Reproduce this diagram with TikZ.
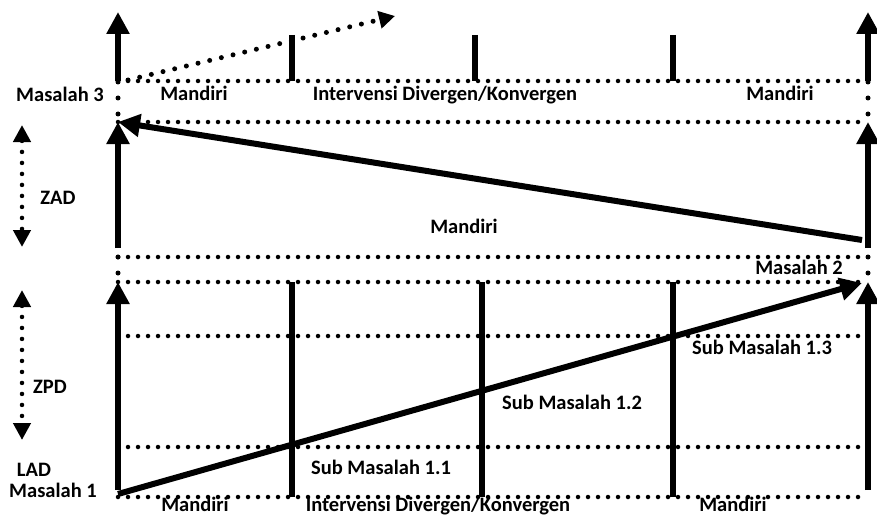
\documentclass[tikz,border=0pt]{standalone}
\usepackage{fontspec}
\setmainfont{Carlito}
\usetikzlibrary{arrows.meta,positioning,calc}

\begin{document}
\begin{tikzpicture}[
    x=1pt, y=-1pt,
    font=\fontsize{20.5}{24}\selectfont\bfseries,
    >={Triangle[length=22pt,width=22pt]},
    axisarrow/.style={line width=6pt, ->},
    bar/.style={line width=6pt},
    dotline/.style={line width=4.5pt, line cap=round, dash pattern=on 0pt off 10pt},
    gapdots/.style={line width=5pt, line cap=round, dash pattern=on 0pt off 16pt},
    zonearrow/.style={line width=4.5pt, line cap=round, dash pattern=on 0pt off 11pt,
        {Triangle[length=17pt,width=17pt]}-{Triangle[length=17pt,width=17pt]}},
    nextarrow/.style={line width=5pt, line cap=round, dash pattern=on 0pt off 12pt,
        -{Triangle[length=16pt,width=17pt]}},
    lbl/.style={inner sep=0pt, anchor=base}
]
\useasboundingbox (0,0) rectangle (877,516);

% level marks on both axes
\foreach \side/\x in {a/118,b/868} {
    \coordinate (\side0) at (\x,12);
    \coordinate (\side1) at (\x,81);
    \coordinate (\side2) at (\x,122);
    \coordinate (\side3) at (\x,248);
    \coordinate (\side4) at (\x,257);
    \coordinate (\side5) at (\x,282);
    \coordinate (\side6) at (\x,490);
    \coordinate (\side7) at (\x,497);
}

% dotted levels
\foreach \i in {1,2,4,5,7}
    \draw[dotline] (a\i) -- (b\i);
\foreach \y in {336,447}
    \draw[dotline] (128,\y) -- (b5 |- 0,\y);

% vertical axes
\foreach \side in {a,b} {
    \draw[axisarrow] (\side1) -- (\side0);
    \draw[axisarrow] (\side3) -- (\side2);
    \draw[axisarrow] (\side6) -- (\side5);
    \draw[gapdots] ($(\side1)+(0,1)$) -- ($(\side2)+(0,-6.5)$);
    \draw[gapdots] (\side4) -- ($(\side4)+(0,17)$);
}

% phase separators
\foreach \x in {292,475,673}
    \draw[bar] (\x,35) -- (\x,81);
\foreach \x in {292,482,673}
    \draw[bar] (\x,282) -- (\x,497);

% progress lines
\coordinate (p1) at (118,494);
\coordinate (p2) at (862,283);
\coordinate (p3) at (862,240);
\coordinate (p4) at (128,80);
\coordinate (p5) at (395,16);
\draw[axisarrow] (p1) -- (p2);
\draw[axisarrow] (p3) -- (a2);
\draw[nextarrow] (p4) -- (p5);

% zones
\coordinate (zad1) at (22,125);
\coordinate (zad2) at (22,247);
\coordinate (zpd1) at (22,290);
\coordinate (zpd2) at (22,440);
\draw[zonearrow] (zad1) -- (zad2);
\draw[zonearrow] (zpd1) -- (zpd2);

\node[lbl] (m3) at (60,102) {Masalah 3};
\node[lbl] (zad) at (58,204) {ZAD};
\node[lbl] (zpd) at (50,393) {ZPD};
\node[lbl] (lad) at (34,476) {LAD};
\node[lbl] (m1) at (53,497) {Masalah 1};
\node[lbl] (m2) at (799,274) {Masalah 2};

\node[lbl] (t1) at (194,100) {Mandiri};
\node[lbl] (t2) at (445,100) {Intervensi Divergen/Konvergen};
\node[lbl] (t3) at (780,100) {Mandiri};
\node[lbl] (mid) at (464,233) {Mandiri};
\node[lbl] (s1) at (381,474) {Sub Masalah 1.1};
\node[lbl] (s2) at (572,409) {Sub Masalah 1.2};
\node[lbl] (s3) at (762,354) {Sub Masalah 1.3};
\node[lbl] (u1) at (195,511) {Mandiri};
\node[lbl] (u2) at (438,511) {Intervensi Divergen/Konvergen};
\node[lbl] (u3) at (733,511) {Mandiri};
\end{tikzpicture}
\end{document}
